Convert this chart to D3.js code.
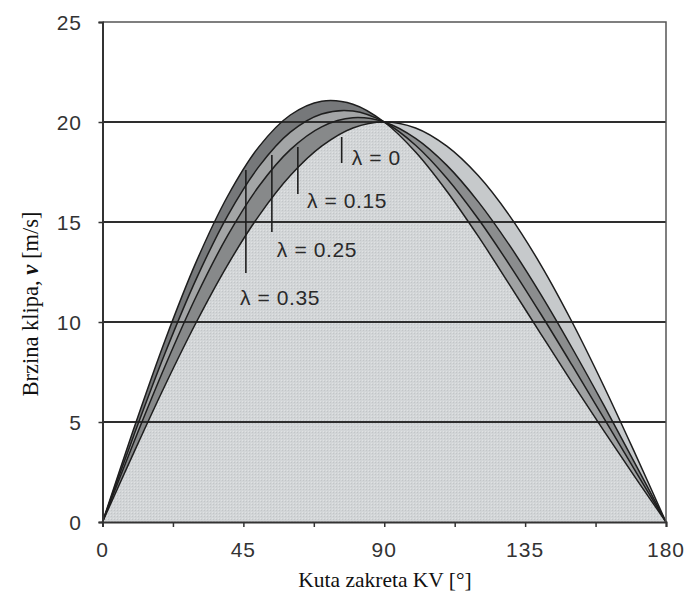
<!DOCTYPE html>
<html>
<head>
<meta charset="utf-8">
<script src="https://cdn.jsdelivr.net/npm/d3@7"></script>
<style>
  html, body { margin: 0; padding: 0; background: #fff; }
  svg { display: block; }
</style>
</head>
<body>
<svg id="chart" width="689" height="597"></svg>
<script>
// ---- data ----
const angles = [0, 10, 20, 30, 40, 50, 60, 70, 80, 90, 100, 110, 120, 130, 140, 150, 160, 170, 180];
const v_l0   = [0, 3.47, 6.84, 10.00, 12.86, 15.32, 17.32, 18.79, 19.70, 20.0, 19.70, 18.79, 17.32, 15.32, 12.86, 10.00, 6.84, 3.47, 0];
const v_l015 = [0, 3.99, 7.80, 11.30, 14.33, 16.80, 18.62, 19.76, 20.21, 20.0, 19.18, 17.83, 16.02, 13.84, 11.38, 8.70, 5.88, 2.96, 0];
const v_l025 = [0, 4.33, 8.45, 12.17, 15.32, 17.78, 19.49, 20.40, 20.55, 20.0, 18.84, 17.19, 15.16, 12.86, 10.40, 7.84, 5.23, 2.61, 0];
const v_l035 = [0, 4.67, 9.09, 13.03, 16.30, 18.77, 20.35, 21.04, 20.89, 20.0, 18.50, 16.54, 14.29, 11.87, 9.41, 6.97, 4.59, 2.27, 0];
const lambdaLabels = ["λ = 0", "λ = 0.15", "λ = 0.25", "λ = 0.35"];
const xTickValues = [0, 45, 90, 135, 180];
const xMinorTicks = [0, 22.5, 45, 67.5, 90, 112.5, 135, 157.5, 180];
const yTickValues = [0, 5, 10, 15, 20, 25];
const xTitle = "Kuta zakreta KV [°]";
const yTitleParts = ["Brzina klipa, ", "v", " [m/s]"];

// ---- annotation layout (angle, value units) ----
const leaderAngle = [76.4, 62.4, 54.1, 45.8];
const leaderTop   = [19.25, 18.75, 18.35, 17.6];
const leaderBot   = [17.95, 16.4, 14.5, 12.45];
const labelAngle  = [79.6, 65.3, 55.7, 43.9];
const labelValue  = [17.85, 15.7, 13.25, 10.85];

const svg = d3.select("#chart");
const x = d3.scaleLinear().domain([0, 180]).range([102.5, 666]);
const y = d3.scaleLinear().domain([0, 25]).range([522, 22]);

const series = [v_l0, v_l015, v_l025, v_l035];
const pts = s => angles.map((a, i) => ({a, v: s[i]}));
const curve = d3.curveCatmullRom.alpha(0.5);

const defs = svg.append("defs");
defs.append("clipPath").attr("id", "clipL").append("rect")
  .attr("x", x(0)).attr("y", y(25)).attr("width", x(90) - x(0)).attr("height", y(0) - y(25));
defs.append("clipPath").attr("id", "clipR").append("rect")
  .attr("x", x(90)).attr("y", y(25)).attr("width", x(180) - x(90)).attr("height", y(0) - y(25));

const pat = defs.append("pattern").attr("id", "stip").attr("patternUnits", "userSpaceOnUse")
  .attr("width", 3).attr("height", 3);
pat.append("rect").attr("width", 3).attr("height", 3).attr("fill", "#d2d5d7");
pat.append("rect").attr("width", 1).attr("height", 1).attr("fill", "#c2c5c7");
pat.append("rect").attr("x", 2).attr("y", 2).attr("width", 1).attr("height", 1).attr("fill", "#e0e2e3");

const env = angles.map((a, i) => ({a, v: Math.max(v_l0[i], v_l015[i], v_l025[i], v_l035[i])}));
svg.append("path")
  .datum(env)
  .attr("d", d3.area().x(d => x(d.a)).y0(y(0)).y1(d => y(d.v)).curve(curve))
  .attr("fill", "url(#stip)");

function band(sA, sB, fill, clip) {
  const data = angles.map((a, i) => ({a, v0: sA[i], v1: sB[i]}));
  svg.append("path").datum(data)
    .attr("clip-path", `url(#${clip})`)
    .attr("d", d3.area().x(d => x(d.a)).y0(d => y(d.v0)).y1(d => y(d.v1)).curve(curve))
    .attr("fill", fill);
}
band(v_l025, v_l035, "#76787a", "clipL");
band(v_l015, v_l025, "#a3a5a6", "clipL");
band(v_l0,   v_l015, "#87898a", "clipL");
band(v_l0,   v_l015, "#c6c9cb", "clipR");
band(v_l015, v_l025, "#8b8d8e", "clipR");
band(v_l025, v_l035, "#a0a2a3", "clipR");

svg.append("g").selectAll("line").data([5, 10, 15, 20]).join("line")
  .attr("x1", x(0)).attr("x2", x(180))
  .attr("y1", d => y(d)).attr("y2", d => y(d))
  .attr("stroke", "#2e2e2e").attr("stroke-width", 2);

const line = d3.line().x(d => x(d.a)).y(d => y(d.v)).curve(curve);
series.forEach(s => {
  svg.append("path").datum(pts(s)).attr("d", line)
    .attr("fill", "none").attr("stroke", "#1e1e1e").attr("stroke-width", 1.5);
});

svg.append("path")
  .attr("d", `M${x(0)},${y(25)}H${x(180)}V${y(0)}`)
  .attr("fill", "none").attr("stroke", "#555").attr("stroke-width", 1.5);

const tickFont = "Liberation Sans, Arial, sans-serif";
const xAxis = svg.append("g").attr("transform", `translate(0,${y(0)})`)
  .call(d3.axisBottom(x).tickValues(xMinorTicks).tickSize(5).tickFormat(""));
xAxis.select(".domain").attr("stroke", "#333").attr("stroke-width", 2);
xAxis.selectAll(".tick line").attr("stroke", "#333").attr("stroke-width", 1.5);
svg.append("g").selectAll("text").data(xTickValues).join("text")
  .attr("x", d => x(d)).attr("y", 557)
  .attr("text-anchor", "middle")
  .attr("font-family", tickFont).attr("font-size", 21).attr("letter-spacing", 1)
  .attr("fill", "#333").text(d => d);

const yAxis = svg.append("g").attr("transform", `translate(${x(0)},0)`)
  .call(d3.axisLeft(y).tickValues(yTickValues).tickSize(4).tickFormat(""));
yAxis.select(".domain").attr("stroke", "#333").attr("stroke-width", 2);
yAxis.selectAll(".tick line").attr("stroke", "#333").attr("stroke-width", 1.5);
svg.append("g").selectAll("text").data(yTickValues).join("text")
  .attr("x", 82).attr("y", d => y(d)).attr("dy", "0.36em")
  .attr("text-anchor", "end")
  .attr("font-family", tickFont).attr("font-size", 21).attr("letter-spacing", 1)
  .attr("fill", "#333").text(d => d);

svg.append("text").attr("x", 385).attr("y", 587).attr("text-anchor", "middle")
  .attr("font-family", "Liberation Serif, Times New Roman, serif").attr("font-size", 21.5)
  .attr("fill", "#111").text(xTitle);
const yt = svg.append("text")
  .attr("transform", `translate(38,${y(10.9)}) rotate(-90)`)
  .attr("text-anchor", "middle")
  .attr("font-family", "Liberation Serif, Times New Roman, serif").attr("font-size", 22.5)
  .attr("fill", "#111");
yt.append("tspan").text(yTitleParts[0]);
yt.append("tspan").attr("font-style", "italic").attr("font-weight", "bold").text(yTitleParts[1]);
yt.append("tspan").text(yTitleParts[2]);

const ann = svg.append("g");
lambdaLabels.forEach((lab, i) => {
  ann.append("line")
    .attr("x1", x(leaderAngle[i])).attr("x2", x(leaderAngle[i]))
    .attr("y1", y(leaderTop[i])).attr("y2", y(leaderBot[i]))
    .attr("stroke", "#1e1e1e").attr("stroke-width", 1.6);
  ann.append("text")
    .attr("x", x(labelAngle[i])).attr("y", y(labelValue[i]))
    .attr("font-family", tickFont).attr("font-size", 21).attr("letter-spacing", 0.6)
    .attr("fill", "#2a2a2a")
    .attr("xml:space", "preserve")
    .text(lab);
});
</script>
</body>
</html>
